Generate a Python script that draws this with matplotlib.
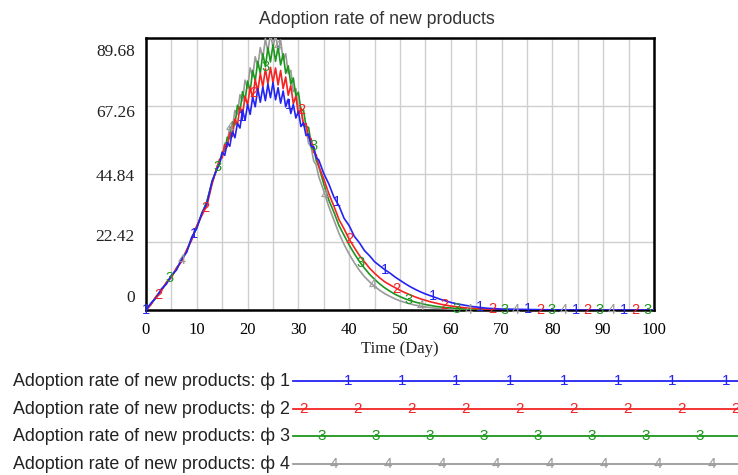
"""
Adoption rate of new products for four values of phi, drawn in the
style of a system-dynamics simulation output graph.
"""

import numpy as np
import matplotlib
matplotlib.use("Agg")
import matplotlib.pyplot as plt

# --- simulation output -------------------------------------------------------
# time grid: whole days to 14, half days through the peak, whole days to 70
days = np.concatenate([
    np.arange(0, 15, 1.0),
    np.arange(14.5, 34.5, 0.5),
    np.arange(35, 71, 1.0),
    [80.0, 90.0, 100.0],
])

phi1 = [
    0.0, 2.3, 4.0, 6.9, 8.5, 11.4, 13.2, 16.8, 19.0, 24.0, 27.0, 32.0, 35.2, 42.5, 46.5,
    48.2, 52.0, 51.0, 55.2, 54.0, 59.0, 56.8, 61.5, 60.0, 66.0,
    62.5, 67.8, 64.5, 70.2, 67.0, 73.0, 68.5, 73.5, 69.0, 74.5,
    70.0, 75.0, 69.3, 73.3, 68.2, 72.2, 67.0, 69.5, 64.8, 67.8,
    63.3, 65.5, 60.5, 61.7, 57.5, 58.0, 54.0, 53.8, 50.2, 49.5,
    45.0, 41.5, 37.2, 34.3, 30.2, 27.8, 24.3, 22.2, 19.6, 17.9,
    15.9, 14.6, 13.3, 12.2, 10.9, 9.8, 8.7, 7.7, 6.8, 6.0,
    5.3, 4.7, 4.1, 3.5, 3.0, 2.5, 2.1, 1.8, 1.5, 1.2,
    1.0, 0.8, 0.6, 0.5, 0.4, 0.3,
    0.05, 0.0, 0.0,
]

phi2 = [
    0.0, 1.8, 4.5, 6.2, 9.1, 10.7, 13.9, 15.9, 19.8, 23.1, 27.8, 31.2, 34.5, 41.5, 47.3,
    49.6, 50.2, 54.5, 53.8, 58.5, 57.2, 63.0, 61.0, 67.0, 64.3,
    70.5, 67.5, 73.5, 69.8, 76.0, 72.0, 78.0, 73.5, 79.5, 74.5,
    80.0, 75.0, 79.8, 74.2, 79.0, 73.0, 76.8, 70.8, 74.0, 68.0,
    70.5, 64.5, 66.5, 61.0, 61.5, 56.8, 56.5, 52.0, 51.2, 47.5,
    43.2, 38.3, 34.2, 29.8, 26.7, 23.3, 20.6, 18.0, 15.9, 13.8,
    12.1, 10.6, 9.3, 8.3, 7.4, 6.5, 5.7, 5.0, 4.3, 3.7,
    3.2, 2.7, 2.3, 1.9, 1.6, 1.3, 1.1, 0.9, 0.7, 0.6,
    0.5, 0.4, 0.3, 0.2, 0.2, 0.1,
    0.0, 0.0, 0.0,
]

phi3 = [
    0.0, 2.1, 4.3, 6.6, 8.9, 11.2, 13.4, 16.5, 19.3, 23.8, 27.2, 31.8, 35.8, 42.2, 46.8,
    48.5, 52.0, 52.5, 57.0, 56.5, 62.0, 61.0, 67.5, 65.3, 72.0,
    69.0, 75.5, 72.0, 79.0, 75.5, 82.0, 78.0, 84.5, 80.2, 86.5,
    81.8, 87.5, 82.0, 86.8, 80.8, 84.5, 78.0, 80.5, 74.5, 76.5,
    70.5, 71.8, 65.8, 66.0, 60.5, 60.2, 55.0, 53.8, 49.3, 47.4,
    41.5, 36.2, 32.2, 27.8, 24.6, 21.4, 18.6, 16.0, 13.8, 11.8,
    10.1, 8.6, 7.3, 6.2, 5.2, 4.4, 3.7, 3.1, 2.6, 2.2,
    1.8, 1.5, 1.2, 1.0, 0.8, 0.7, 0.5, 0.4, 0.3, 0.3,
    0.2, 0.2, 0.1, 0.1, 0.1, 0.1,
    0.0, 0.0, 0.0,
]

phi4 = [
    0.0, 2.0, 4.4, 6.4, 9.0, 11.0, 13.7, 16.2, 19.6, 23.4, 27.5, 31.5, 36.0, 42.0, 47.0,
    49.8, 50.5, 55.0, 55.2, 60.5, 59.8, 65.8, 64.5, 71.0, 69.0,
    75.8, 73.2, 79.8, 77.0, 83.5, 80.2, 86.5, 83.0, 89.5, 85.0,
    91.5, 86.5, 91.0, 85.5, 89.0, 82.5, 84.5, 78.0, 79.0, 72.0,
    73.0, 66.5, 66.5, 60.8, 60.0, 55.0, 53.8, 49.2, 47.8, 44.0,
    39.2, 34.0, 29.6, 25.2, 21.6, 18.4, 15.6, 13.1, 11.0, 9.3,
    7.8, 6.5, 5.4, 4.5, 3.7, 3.0, 2.5, 2.0, 1.6, 1.3,
    1.0, 0.8, 0.6, 0.5, 0.4, 0.3, 0.2, 0.2, 0.1, 0.1,
    0.1, 0.1, 0.0, 0.0, 0.0, 0.0,
    0.0, 0.0, 0.0,
]

series_labels = ["1", "2", "3", "4"]
legend_names = [f"Adoption rate of new products: ф {s}" for s in series_labels]
y_grid = [0, 22.42, 44.84, 67.26, 89.68]
x_ticks = list(range(0, 101, 10))

# --- style ---------------------------------------------------------------
colors = ["#2323f5", "#f52323", "#1e961e", "#9a9a9a"]
SANS = ["Liberation Sans", "DejaVu Sans"]
SERIF = ["Liberation Serif", "DejaVu Serif"]
MARK_STEP = 9.4        # days between number markers on a curve
MARK_SHIFT = 2.35      # stagger between the four curves

W, H = 738, 475
fig = plt.figure(figsize=(W / 100, H / 100), dpi=100)
ax = fig.add_axes([146 / W, 1 - 310 / H, 508 / W, 272 / H])

all_series = [phi1, phi2, phi3, phi4]

# draw grey first so blue ends up on top
for i in reversed(range(4)):
    y = np.asarray(all_series[i])
    ax.plot(days, y, color=colors[i], linewidth=1.2, zorder=3 + (3 - i))
    marks = np.arange(i * MARK_SHIFT, 100.01, MARK_STEP)
    for tm in marks:
        ax.text(tm, np.interp(tm, days, y), series_labels[i], color=colors[i],
                fontsize=10.5, family=SANS, ha="center", va="center", zorder=8)

ax.set_xlim(0, 100)
ax.set_ylim(0, 89.68)

ax.set_xticks(x_ticks)
ax.set_xticks(range(0, 101, 5), minor=True)
ax.set_xticklabels([str(v) for v in x_ticks], family=SERIF, fontsize=12)
ax.set_yticks(y_grid)
ax.set_yticklabels([])
ax.tick_params(axis="both", which="both", length=0)
ax.tick_params(axis="x", pad=9)
ax.grid(axis="x", which="both", color="#cfcfcf", linewidth=1.0, zorder=0)
ax.grid(axis="y", which="major", color="#cfcfcf", linewidth=1.0, zorder=0)

# value labels sit evenly spaced down the left edge
label_fracs = [0.044, 0.268, 0.489, 0.724, 0.949]
for frac, v in zip(label_fracs, y_grid):
    txt = "0" if v == 0 else f"{v:.2f}"
    ax.text(-0.022, frac, txt, transform=ax.transAxes, ha="right", va="center",
            family=SERIF, fontsize=12.5, color="#222222")

for sp in ax.spines.values():
    sp.set_linewidth(1.8)
    sp.set_color("black")

ax.set_xlabel("Time (Day)", family=SERIF, fontsize=12, labelpad=2, color="#222222")
fig.text(377 / W, 1 - 20 / H, "Adoption rate of new products", ha="center",
         va="center", family=SANS, fontsize=12.8, color="#333333")

# --- legend rows below the graph (pixel coordinates) ------------------------
leg = fig.add_axes([0, 0, 1, 1], facecolor="none")
leg.set_xlim(0, W)
leg.set_ylim(H, 0)
leg.axis("off")

row_y = [381, 409, 436, 464]
mark_start = [348, 303, 322, 334]
for i in range(4):
    yy = row_y[i]
    leg.text(290, yy, legend_names[i], ha="right", va="center", family=SANS,
             fontsize=12.9, color="#222222")
    leg.plot([293, W + 5], [yy, yy], color=colors[i], linewidth=1.3, clip_on=False)
    for xm in np.arange(mark_start[i], W - 2, 54.0):
        leg.text(xm, yy, series_labels[i], color=colors[i], fontsize=11,
                 family=SANS, ha="center", va="center")

fig.savefig("out.png", dpi=100)
